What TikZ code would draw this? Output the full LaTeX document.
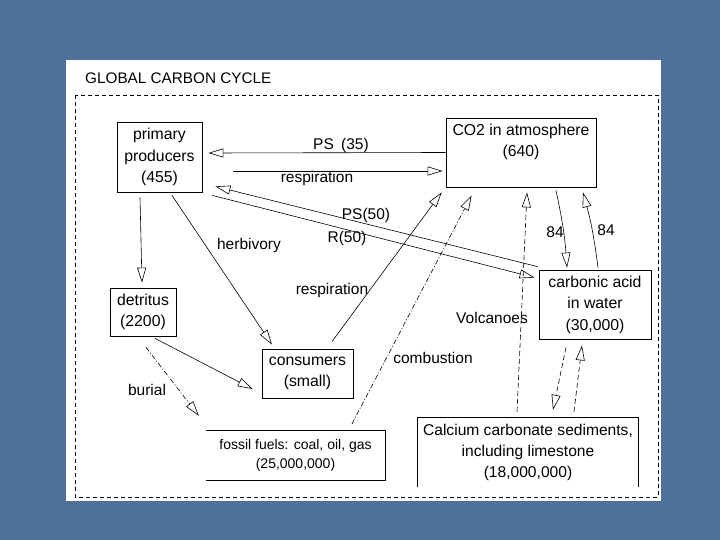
\documentclass[tikz,border=0pt]{standalone}
\usepackage{fontspec}
\setmainfont{Liberation Sans}
\usetikzlibrary{arrows.meta}
\definecolor{bgblue}{RGB}{78,112,155}
\begin{document}
\begin{tikzpicture}[x=1pt,y=-1pt,
  box/.style={draw, line width=0.8pt, inner sep=0pt, align=center, font=\fontsize{15.8}{21.5}\selectfont},
  txt/.style={inner sep=0pt, align=center, font=\fontsize{15.8}{21.5}\selectfont},
  lbl/.style={inner sep=0pt, font=\fontsize{15.5}{18}\selectfont},
  flow/.style={line width=0.6pt, -{Triangle[length=15pt,width=9pt,fill=white,line width=0.6pt]}},
  dashdot/.style={dash pattern=on 5pt off 2pt on 1pt off 2pt},
  dsh/.style={dash pattern=on 5pt off 3pt}]
\useasboundingbox (0,0) rectangle (720,540);
\fill[bgblue] (0,0) rectangle (720,540);
\fill[white] (66,60) rectangle (661,501);
\draw[line width=0.7pt, dash pattern=on 4pt off 3pt] (75,95) rectangle (658,497);
\node[lbl, anchor=west, font=\fontsize{15.3}{18}\selectfont] (title) at (85,78) {GLOBAL CARBON CYCLE};

% boxes
\node[box, minimum width=85, minimum height=70] (prod) at (159.5,157) {primary\\producers\\(455)};
\node[box, minimum width=150, minimum height=69] (co2) at (521,152.5) {};
\node[txt, anchor=north] (co2t) at ([yshift=-6pt]co2.north) {CO2 in atmosphere\\(640)};
\node[box, minimum width=66, minimum height=48] (det) at (143,312) {detritus\\(2200)};
\node[box, minimum width=91, minimum height=49] (cons) at (307.5,373.5) {consumers\\(small)};
\node[box, minimum width=112, minimum height=69] (carb) at (595,304.5) {carbonic acid\\in water\\(30,000)};
\node[txt, minimum width=179, minimum height=49, font=\fontsize{14}{19}\selectfont] (foss) at (295.5,455.5) {fossil fuels: coal, oil, gas\\(25,000,000)};
\draw[line width=0.8pt] (foss.north west) -- (foss.north east) -- (foss.south east) -- (foss.south west);
\node[txt, minimum width=220, minimum height=69, font=\fontsize{15.6}{21}\selectfont] (caco) at (528,452.5) {Calcium carbonate sediments,\\including limestone\\(18,000,000)};
\draw[line width=0.8pt] (caco.south west) -- (caco.north west) -- (caco.north east) -- (caco.south east);

% connectors
\draw[flow] (co2.west) -- ([xshift=6pt,yshift=4pt]prod.east);
\draw[flow] ([xshift=31pt,yshift=-14pt]prod.east) -- ([xshift=-3pt,yshift=-18.5pt]co2.west);
\draw[flow] ([xshift=-1pt,yshift=3pt]carb.north west) -- ([xshift=13pt,yshift=6pt]prod.south east);
\draw[flow] ([xshift=10pt,yshift=-3pt]prod.south east) -- ([xshift=-4pt,yshift=-8pt]carb.north west);
\draw[flow] ([xshift=12.5pt,yshift=-3pt]prod.south) -- ([xshift=-35.5pt,yshift=4pt]cons.north);
\draw[flow] ([xshift=-19.5pt,yshift=-5pt]prod.south) -- ([xshift=-1pt,yshift=5pt]det.north);
\draw[flow] ([xshift=24.5pt,yshift=7pt]cons.north) -- ([xshift=-4pt,yshift=-5pt]co2.south west);
\draw[flow] ([xshift=12pt,yshift=-2pt]det.south) -- ([xshift=-9pt,yshift=-15.5pt]cons.west);
\draw[flow, dashdot] ([xshift=3pt,yshift=-11pt]det.south) -- ([xshift=-7pt,yshift=15pt]foss.north west);
\draw[flow, dashdot] ([xshift=56.5pt,yshift=7pt]foss.north) -- ([xshift=26pt,yshift=-8pt]co2.south west);
\draw[flow, dsh] ([xshift=-11pt,yshift=6pt]caco.north) -- ([xshift=6pt,yshift=-5pt]co2.south);
\draw[flow] ([xshift=35pt,yshift=-3pt]co2.south) to[bend left=4] ([xshift=-28pt,yshift=2pt]carb.north);
\draw[flow] ([xshift=3pt,yshift=2pt]carb.north) to[bend right=4] ([xshift=62pt,yshift=-5pt]co2.south);
\draw[flow, dsh] ([xshift=-29pt,yshift=-8pt]carb.south) -- ([xshift=25pt,yshift=8pt]caco.north);
\draw[flow, dsh] ([xshift=46pt,yshift=6pt]caco.north) -- ([xshift=-13pt,yshift=-6pt]carb.south);

% labels
\node[lbl] (l1) at (341,145) {PS\hspace{3pt} (35)};
\node[lbl] (l2) at (317,178) {respiration};
\node[lbl] (l3) at (366,215) {PS(50)};
\node[lbl] (l4) at (347,238) {R(50)};
\node[lbl] (l5) at (249,245) {herbivory};
\node[lbl] (l6) at (332,290) {respiration};
\node[lbl] (l7) at (147,390) {burial};
\node[lbl] (l8) at (433,358) {combustion};
\node[lbl] (l9) at (492,318) {Volcanoes};
\node[lbl] (l10) at (555,232) {84};
\node[lbl] (l11) at (606,230) {84};
\end{tikzpicture}
\end{document}
